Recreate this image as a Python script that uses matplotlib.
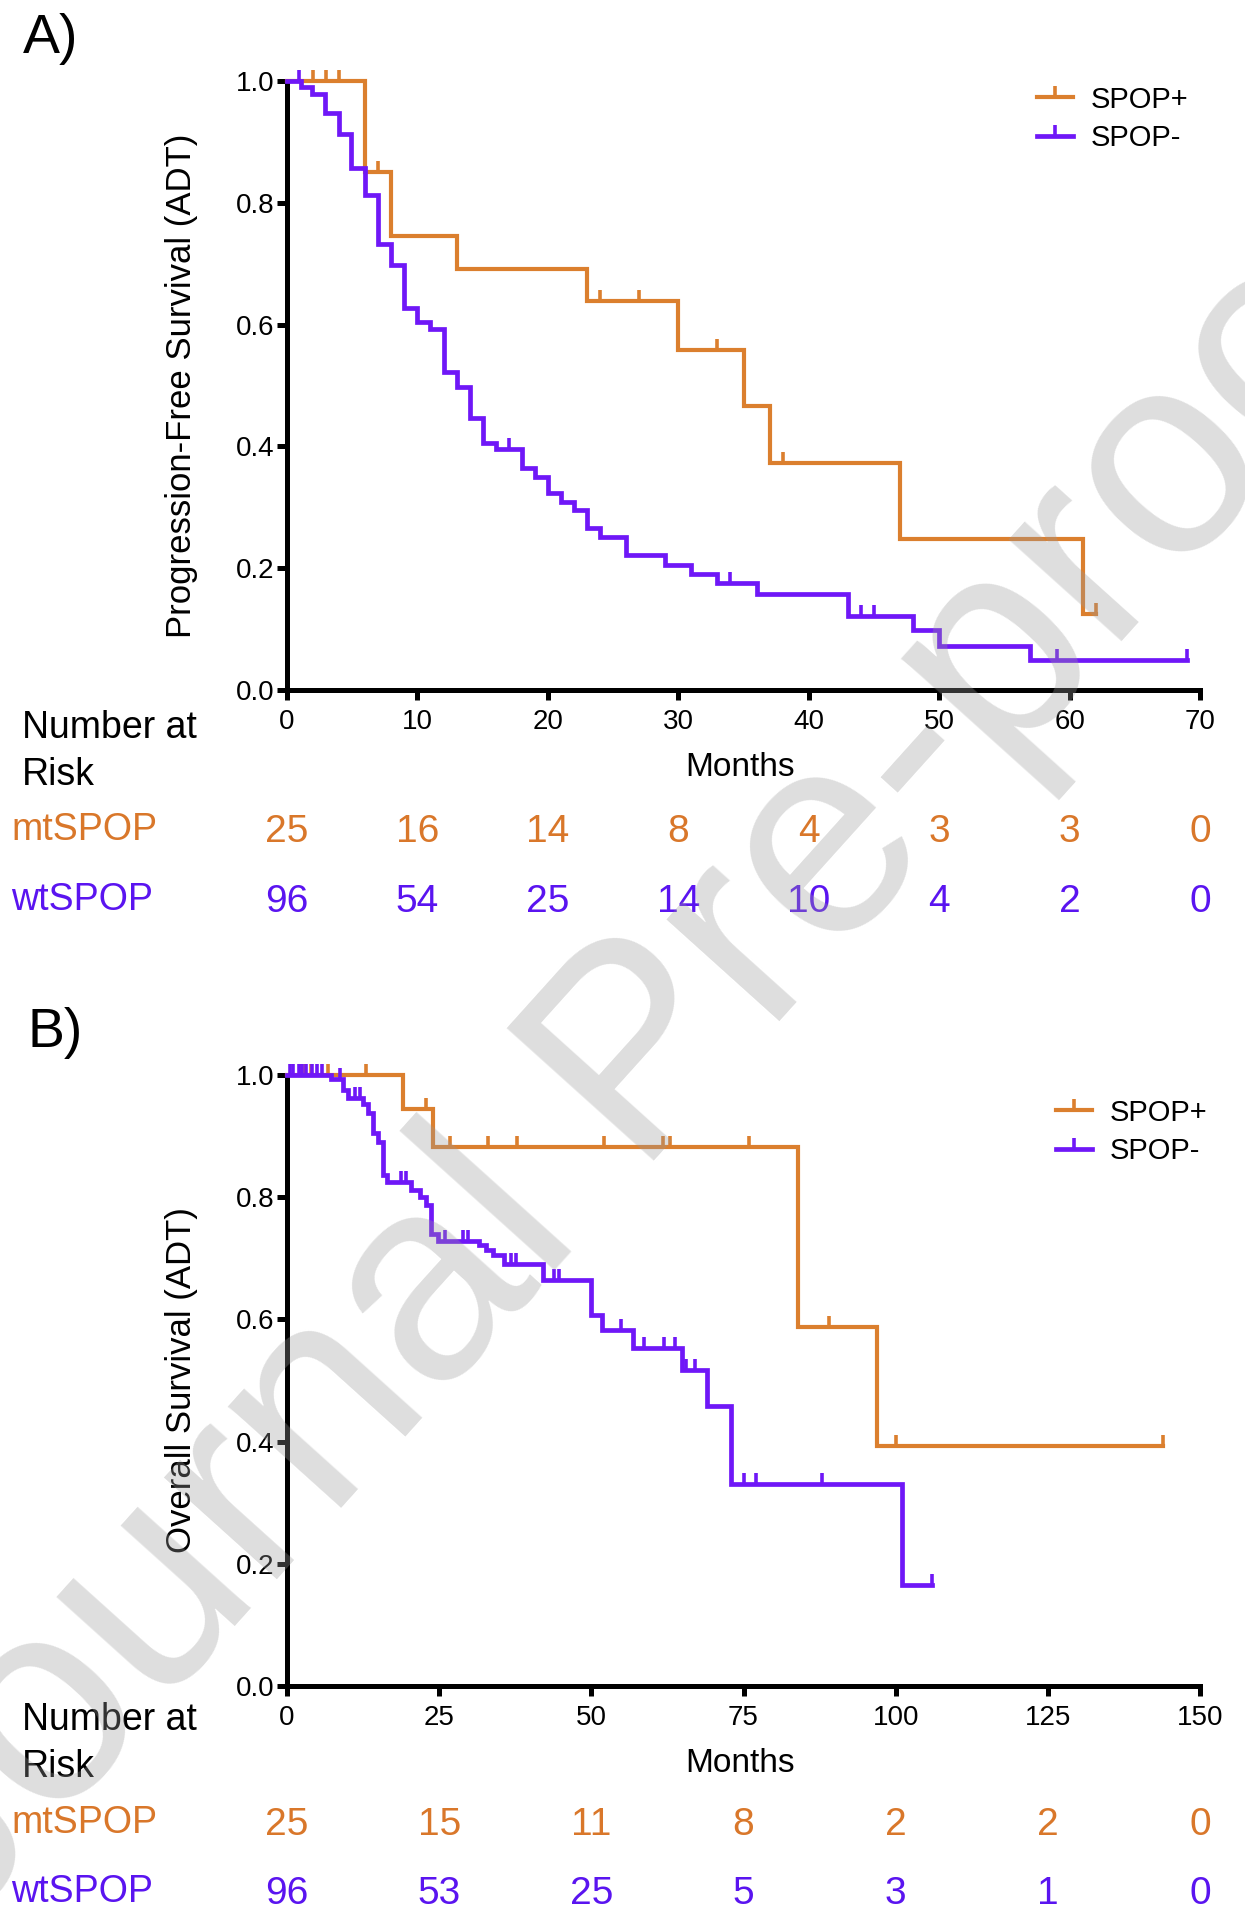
import numpy as np
import matplotlib
matplotlib.use("Agg")
import matplotlib.pyplot as plt
from matplotlib.lines import Line2D
from matplotlib import transforms

plt.rcParams['font.family'] = ['Liberation Sans', 'DejaVu Sans']

W, H = 1245, 1920


def fx(px):
    return px / W


def fy(py):
    return 1 - py / H


ORANGE = '#DB7F2E'
PURPLE = '#6F17F7'
ORANGE_TXT = '#D9772A'
PURPLE_TXT = '#5A14F0'

# ---- A) progression-free survival ----
pfs_mt_t = [0, 6, 8, 13, 23, 30, 35, 37, 47, 61, 62]
pfs_mt_s = [1.0, 0.85, 0.745, 0.691, 0.638, 0.558, 0.466, 0.372, 0.248, 0.124, 0.124]
pfs_mt_cens = [2, 3, 4, 7, 24, 27, 33, 38, 62]

pfs_wt_t = [0, 1.1, 1.9, 2.9, 4, 4.9, 6, 7, 8, 9, 10, 11, 12, 13, 14, 15, 16, 18, 19, 20,
            21, 22, 23, 24, 26, 29, 31, 33, 36, 43, 48, 50, 57, 69]
pfs_wt_s = [1.0, 0.99, 0.978, 0.947, 0.913, 0.857, 0.813, 0.732, 0.698, 0.627,
            0.605, 0.593, 0.522, 0.498, 0.446, 0.406, 0.395, 0.365, 0.350, 0.323,
            0.308, 0.295, 0.266, 0.251, 0.222, 0.206, 0.190, 0.176, 0.157, 0.122,
            0.098, 0.072, 0.0485, 0.0485]
pfs_wt_cens = [0.9, 17, 34, 44, 45, 59, 69]

pfs_ticks = [0, 10, 20, 30, 40, 50, 60, 70]
pfs_risk_mt = [25, 16, 14, 8, 4, 3, 3, 0]
pfs_risk_wt = [96, 54, 25, 14, 10, 4, 2, 0]

# ---- B) overall survival ----
os_mt_t = [0, 19, 24, 84, 97, 144]
os_mt_s = [1.0, 0.944, 0.882, 0.588, 0.392, 0.392]
os_mt_cens = [2.1, 3.0, 3.9, 6.8, 12.9, 22.9, 26.8, 33.0, 37.8, 52.0, 61.7, 62.9,
              75.9, 89.1, 100.0, 144]

os_wt_t = [0, 7.3, 9.2, 10.0, 12.5, 13.3, 14.1, 14.9, 15.7, 16.5,
           20.4, 21.8, 22.9, 23.7, 24.8, 31.6, 32.7, 33.8, 35.7, 42.1,
           50.0, 51.7, 56.8, 64.9, 69.0, 72.9, 101.1, 106]
os_wt_s = [1.0, 0.993, 0.975, 0.963, 0.952, 0.938, 0.905, 0.891, 0.836, 0.825,
           0.811, 0.800, 0.787, 0.740, 0.729, 0.721, 0.713, 0.705, 0.691, 0.664,
           0.607, 0.583, 0.554, 0.517, 0.458, 0.330, 0.165, 0.165]
os_wt_cens = [0.5, 1.0, 1.9, 2.4, 3.2, 4.1, 4.9, 5.7, 8.7, 11.2, 12.0, 18.7, 19.6,
              25.9, 28.9, 29.7, 36.8, 37.6, 43.9, 44.7, 54.8, 58.7, 61.9, 63.8,
              65.5, 67.0, 75.1, 77.0, 87.9, 106]

os_ticks = [0, 25, 50, 75, 100, 125, 150]
os_risk_mt = [25, 15, 11, 8, 2, 2, 0]
os_risk_wt = [96, 53, 25, 5, 3, 1, 0]


def km_curve(ax, t, s, cens, color, lw):
    t = np.asarray(t, float)
    s = np.asarray(s, float)
    ax.step(t, s, where='post', color=color, lw=lw, clip_on=False,
            solid_joinstyle='miter', zorder=3)
    idx = np.searchsorted(t, cens, side='right') - 1
    ax.plot(cens, s[idx], ls='none', marker=2, ms=8, mew=2.6, color=color,
            clip_on=False, zorder=3)


fig = plt.figure(figsize=(W / 100, H / 100), dpi=100)


def panel(top, bottom, t_mt, s_mt, c_mt, t_wt, s_wt, c_wt, ticks, r_mt, r_wt,
          ylabel, tag, tag_xy, rows, legend_xy):
    ax = fig.add_axes([fx(287), fy(bottom), 913 / W, (bottom - top) / H])
    km_curve(ax, t_mt, s_mt, c_mt, ORANGE, 3.0)
    km_curve(ax, t_wt, s_wt, c_wt, PURPLE, 3.4)
    ax.set_xlim(ticks[0], ticks[-1])
    ax.set_ylim(0, 1)
    ax.set_xticks(ticks)
    ax.set_yticks(np.arange(0, 1.01, 0.2))
    ax.set_yticklabels([f"{v:.1f}" for v in np.arange(0, 1.01, 0.2)])
    for side in ['top', 'right']:
        ax.spines[side].set_visible(False)
    for side in ['left', 'bottom']:
        ax.spines[side].set_linewidth(3.6)
    ax.tick_params(axis='both', length=7, width=3.6, direction='out')
    ax.tick_params(axis='y', labelsize=20, pad=2)
    ax.tick_params(axis='x', labelsize=20, pad=7)

    fig.text(fx(182), fy((top + bottom) / 2), ylabel, rotation=90, ha='center',
             va='center', fontsize=25)
    fig.text(fx(740), fy(rows[4]), 'Months', ha='center', va='center', fontsize=24)
    fig.text(fx(tag_xy[0]), fy(tag_xy[1]), tag, ha='left', va='baseline', fontsize=40)
    fig.text(fx(22), fy(rows[0]), 'Number at', ha='left', va='baseline', fontsize=27)
    fig.text(fx(22), fy(rows[1]), 'Risk', ha='left', va='baseline', fontsize=27)
    fig.text(fx(11), fy(rows[2]), 'mtSPOP', ha='left', va='baseline', fontsize=27,
             color=ORANGE_TXT)
    fig.text(fx(11), fy(rows[3]), 'wtSPOP', ha='left', va='baseline', fontsize=27,
             color=PURPLE_TXT)
    tr = transforms.blended_transform_factory(ax.transData, fig.transFigure)
    for x, a, b in zip(ticks, r_mt, r_wt):
        ax.text(x, fy(rows[2] + 2), str(a), transform=tr, ha='center', va='baseline',
                fontsize=28, color=ORANGE_TXT)
        ax.text(x, fy(rows[3] + 2), str(b), transform=tr, ha='center', va='baseline',
                fontsize=28, color=PURPLE_TXT)

    handles = [Line2D([], [], color=ORANGE, lw=3.0, marker=2, ms=8, mew=2.6),
               Line2D([], [], color=PURPLE, lw=3.4, marker=2, ms=8, mew=2.6)]
    fig.legend(handles, ['SPOP+', 'SPOP-'], loc='upper left',
               bbox_to_anchor=(fx(legend_xy[0]), fy(legend_xy[1])), frameon=False,
               fontsize=21, handlelength=1.25, handletextpad=0.62,
               labelspacing=0.36, borderpad=0, numpoints=1)
    return ax


panel(81, 690, pfs_mt_t, pfs_mt_s, pfs_mt_cens, pfs_wt_t, pfs_wt_s, pfs_wt_cens,
      pfs_ticks, pfs_risk_mt, pfs_risk_wt, 'Progression-Free Survival (ADT)',
      'A)', (23, 53), (738, 785, 840, 910, 767), (1022, 71))
panel(1075, 1686, os_mt_t, os_mt_s, os_mt_cens, os_wt_t, os_wt_s, os_wt_cens,
      os_ticks, os_risk_mt, os_risk_wt, 'Overall Survival (ADT)',
      'B)', (27, 1047), (1730, 1777, 1833, 1902, 1763), (1041, 1084))

# watermark
fig.text(fx(642), fy(1063), 'Journal Pre-proof', rotation=48, ha='center', va='center',
         fontsize=207, color='#9a9a9a', alpha=0.33, zorder=10)

fig.savefig('out.png', dpi=100)
